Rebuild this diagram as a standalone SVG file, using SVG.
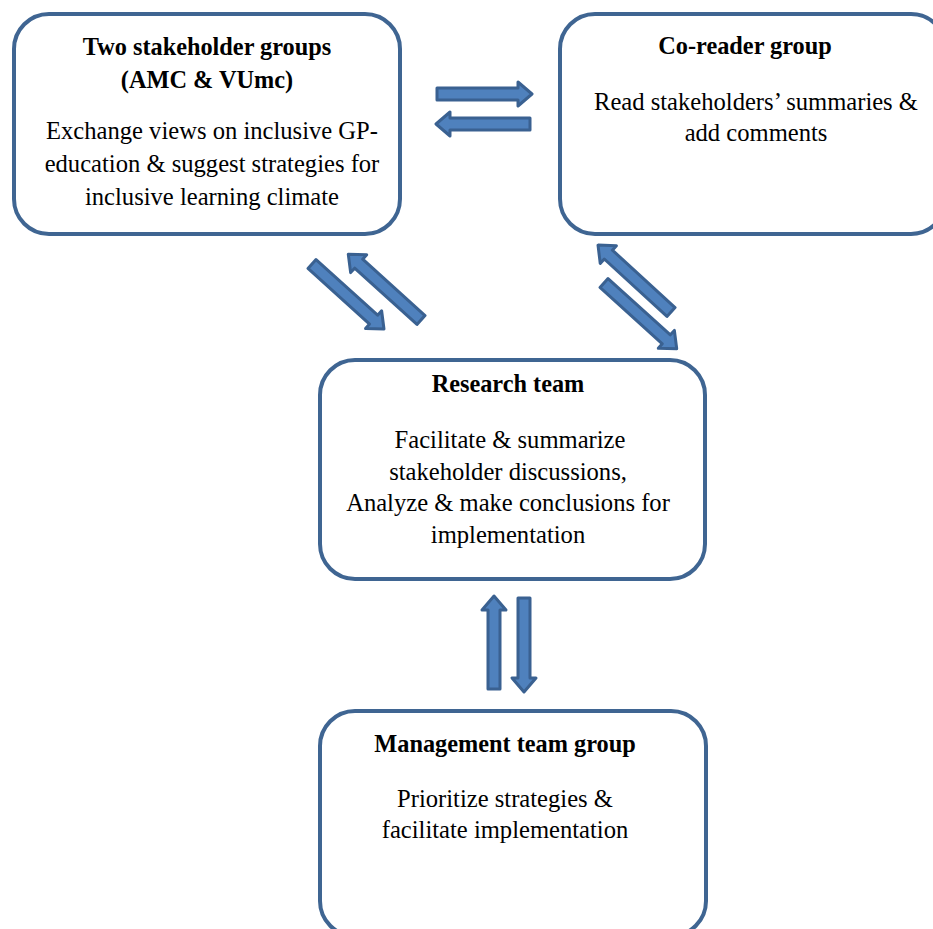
<svg xmlns="http://www.w3.org/2000/svg" width="933" height="929" viewBox="0 0 933 929">
  <style>
    .box { fill: #ffffff; stroke: #3f6592; stroke-width: 4; }
    .title { font-family: "Liberation Serif", "Times New Roman", serif; font-size: 24.3px; font-weight: bold; fill: #000; text-anchor: middle; }
    .body { font-family: "Liberation Serif", "Times New Roman", serif; font-size: 24.6px; fill: #000; text-anchor: middle; }
    .arrow { fill: #4f81bd; stroke: #3a6191; stroke-width: 3; stroke-linejoin: round; }
  </style>
  <rect width="933" height="929" fill="#ffffff"/>

  <g id="stakeholders">
    <rect class="box" x="14" y="14" width="386" height="220" rx="35"/>
    <text class="title" x="207" y="55">Two stakeholder groups</text>
    <text class="title" x="207" y="88">(AMC &amp; VUmc)</text>
    <text class="body" x="212" y="139">Exchange views on inclusive GP-</text>
    <text class="body" x="212" y="172">education &amp; suggest strategies for</text>
    <text class="body" x="212" y="205">inclusive learning climate</text>
  </g>

  <g id="coreader">
    <rect class="box" x="560" y="14" width="386" height="220" rx="35"/>
    <text class="title" x="745" y="54">Co-reader group</text>
    <text class="body" x="756" y="110">Read stakeholders’ summaries &amp;</text>
    <text class="body" x="756" y="141">add comments</text>
  </g>

  <g id="research">
    <rect class="box" x="320" y="360" width="385" height="219" rx="35"/>
    <text class="title" x="508" y="392">Research team</text>
    <text class="body" x="510" y="448">Facilitate &amp; summarize</text>
    <text class="body" x="508" y="480">stakeholder discussions,</text>
    <text class="body" x="508" y="511">Analyze &amp; make conclusions for</text>
    <text class="body" x="508" y="543">implementation</text>
  </g>

  <g id="management">
    <rect class="box" x="320" y="711" width="386" height="225" rx="35"/>
    <text class="title" x="505" y="752">Management team group</text>
    <text class="body" x="505" y="807">Prioritize strategies &amp;</text>
    <text class="body" x="505" y="838">facilitate implementation</text>
  </g>

  <!-- block arrows: drawn tail at origin, tip at (L,0), then rotated -->
  <g id="connectors">
    <polygon class="arrow" transform="translate(437,94)" points="0,-6 81,-6 81,-12 95,0 81,12 81,6 0,6"/>
    <polygon class="arrow" transform="translate(530,124) rotate(180)" points="0,-6 80,-6 80,-12 94,0 80,12 80,6 0,6"/>
    <polygon class="arrow" transform="translate(312,264) rotate(42.1)" points="0,-6 83,-6 83,-12 97,0 83,12 83,6 0,6"/>
    <polygon class="arrow" transform="translate(421,320) rotate(222.1)" points="0,-6 84,-6 84,-12 98,0 84,12 84,6 0,6"/>
    <polygon class="arrow" transform="translate(671,312) rotate(222.5)" points="0,-6 85,-6 85,-12 99,0 85,12 85,6 0,6"/>
    <polygon class="arrow" transform="translate(604,283) rotate(42.1)" points="0,-6 84,-6 84,-12 98,0 84,12 84,6 0,6"/>
    <polygon class="arrow" transform="translate(494,689) rotate(-90)" points="0,-6 79,-6 79,-12 93,0 79,12 79,6 0,6"/>
    <polygon class="arrow" transform="translate(524,598) rotate(90)" points="0,-6 80,-6 80,-12 94,0 80,12 80,6 0,6"/>
  </g>
</svg>
